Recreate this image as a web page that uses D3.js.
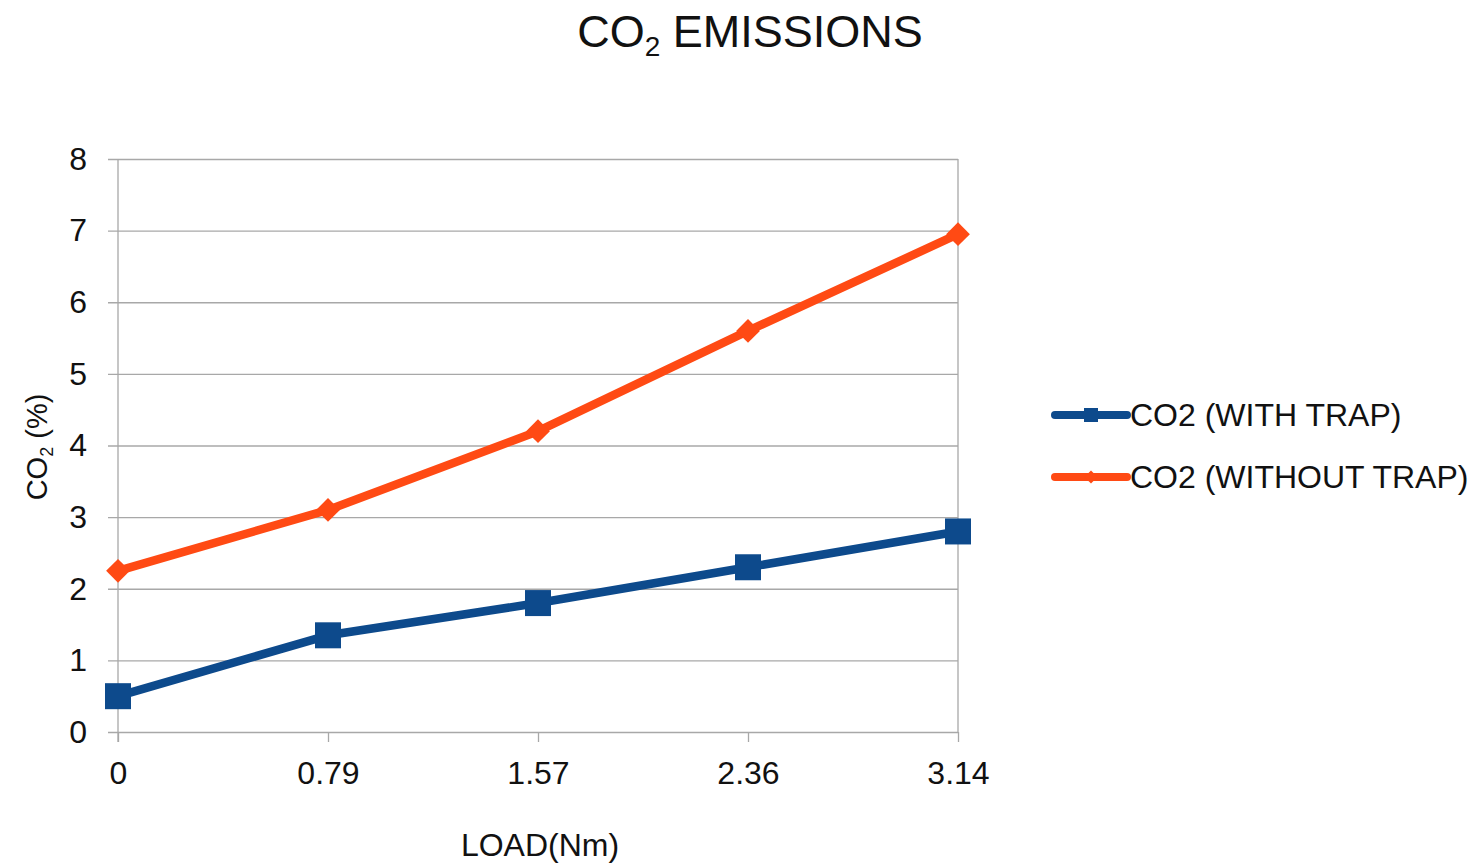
<!DOCTYPE html>
<html>
<head>
<meta charset="utf-8">
<script src="https://cdn.jsdelivr.net/npm/d3@7"></script>
<style>
  html, body { margin: 0; padding: 0; background: #fff; }
  svg { display: block; font-family: "Liberation Sans", Arial, sans-serif; }
</style>
</head>
<body>
<svg id="chart" width="1480" height="865"></svg>
<script>
// Engine load steps (Nm) and CO2 readings (%)
const loads = ["0", "0.79", "1.57", "2.36", "3.14"];
const withTrap = [0.5, 1.35, 1.8, 2.3, 2.8];
const withoutTrap = [2.25, 3.1, 4.2, 5.6, 6.95];
const yTicks = [0, 1, 2, 3, 4, 5, 6, 7, 8];
const seriesNames = ["CO2 (WITH TRAP)", "CO2 (WITHOUT TRAP)"];

const colors = ["#0d4a8c", "#ff4a14"];
const textColor = "#111";

const svg = d3.select("#chart");
const m = { left: 118, right: 958, top: 159, bottom: 732 };

const x = d3.scalePoint().domain(loads).range([m.left, m.right]);
const y = d3.scaleLinear().domain([0, 8]).range([m.bottom, m.top]);

// Horizontal gridlines with short ticks left of the axis
const yAxis = d3.axisLeft(y).tickValues(yTicks).tickSize(-(m.right - m.left)).tickPadding(31);
const gy = svg.append("g").attr("transform", `translate(${m.left},0)`).call(yAxis);
gy.select(".domain").remove();
gy.selectAll(".tick line").attr("stroke", "#a8a8a8").attr("stroke-width", 1.3).attr("x1", -10);
gy.selectAll(".tick text").attr("font-size", 32).attr("fill", textColor)
  .attr("font-family", "Liberation Sans, Arial, sans-serif");

// X axis with downward ticks
const xAxis = d3.axisBottom(x).tickSize(10).tickPadding(19);
const gx = svg.append("g").attr("transform", `translate(0,${m.bottom})`).call(xAxis);
gx.select(".domain").remove();
gx.selectAll(".tick line").attr("stroke", "#a8a8a8").attr("stroke-width", 1.3);
gx.selectAll(".tick text").attr("font-size", 32).attr("fill", textColor)
  .attr("font-family", "Liberation Sans, Arial, sans-serif");

// Plot frame: left and right verticals
svg.append("line").attr("x1", m.left).attr("x2", m.left).attr("y1", m.top).attr("y2", m.bottom + 10)
  .attr("stroke", "#a8a8a8").attr("stroke-width", 1.3);
svg.append("line").attr("x1", m.right).attr("x2", m.right).attr("y1", m.top).attr("y2", m.bottom)
  .attr("stroke", "#a8a8a8").attr("stroke-width", 1.3);

const line = d3.line().x((d, i) => x(loads[i])).y(d => y(d));

// Series lines
[withTrap, withoutTrap].forEach((vals, k) => {
  svg.append("path").datum(vals).attr("d", line)
    .attr("fill", "none").attr("stroke", colors[k]).attr("stroke-width", 8.5)
    .attr("stroke-linejoin", "round");
});

// Markers: squares for WITH TRAP, diamonds for WITHOUT TRAP
svg.append("g").selectAll("rect").data(withTrap).join("rect")
  .attr("x", (d, i) => x(loads[i]) - 13).attr("y", d => y(d) - 13)
  .attr("width", 26).attr("height", 26).attr("fill", colors[0]);

const diamond = d3.symbol().type(d3.symbolDiamond2).size(360);
svg.append("g").selectAll("path").data(withoutTrap).join("path")
  .attr("d", diamond)
  .attr("transform", (d, i) => `translate(${x(loads[i])},${y(d)})`)
  .attr("fill", colors[1]);

// Title with subscript
const title = svg.append("text").attr("x", 750).attr("y", 47).attr("text-anchor", "middle")
  .attr("font-size", 45).attr("fill", textColor);
title.append("tspan").text("CO");
title.append("tspan").text("2").attr("font-size", 28).attr("dy", 9);
title.append("tspan").text(" EMISSIONS").attr("dy", -9);

// Y axis label
const yl = svg.append("text").attr("transform", "translate(47,447) rotate(-90)")
  .attr("text-anchor", "middle").attr("font-size", 29).attr("fill", textColor);
yl.append("tspan").text("CO");
yl.append("tspan").text("2").attr("font-size", 18).attr("dy", 6);
yl.append("tspan").text(" (%)").attr("dy", -6);

// X axis label
svg.append("text").attr("x", 540).attr("y", 856).attr("text-anchor", "middle")
  .attr("font-size", 32).attr("fill", textColor).text("LOAD(Nm)");

// Legend
const legend = svg.append("g");
const legendY = [415, 477];
seriesNames.forEach((name, k) => {
  const g = legend.append("g").attr("transform", `translate(0,${legendY[k]})`);
  g.append("line").attr("x1", 1055).attr("x2", 1127).attr("y1", 0).attr("y2", 0)
    .attr("stroke", colors[k]).attr("stroke-width", 8).attr("stroke-linecap", "round");
  if (k === 0) {
    g.append("rect").attr("x", 1084).attr("y", -7).attr("width", 14).attr("height", 14).attr("fill", colors[k]);
  } else {
    g.append("path").attr("d", d3.symbol().type(d3.symbolDiamond2).size(110))
      .attr("transform", "translate(1091,0)").attr("fill", colors[k]);
  }
  g.append("text").attr("x", 1130).attr("y", 11).attr("font-size", 32).attr("fill", textColor).text(name);
});
</script>
</body>
</html>
